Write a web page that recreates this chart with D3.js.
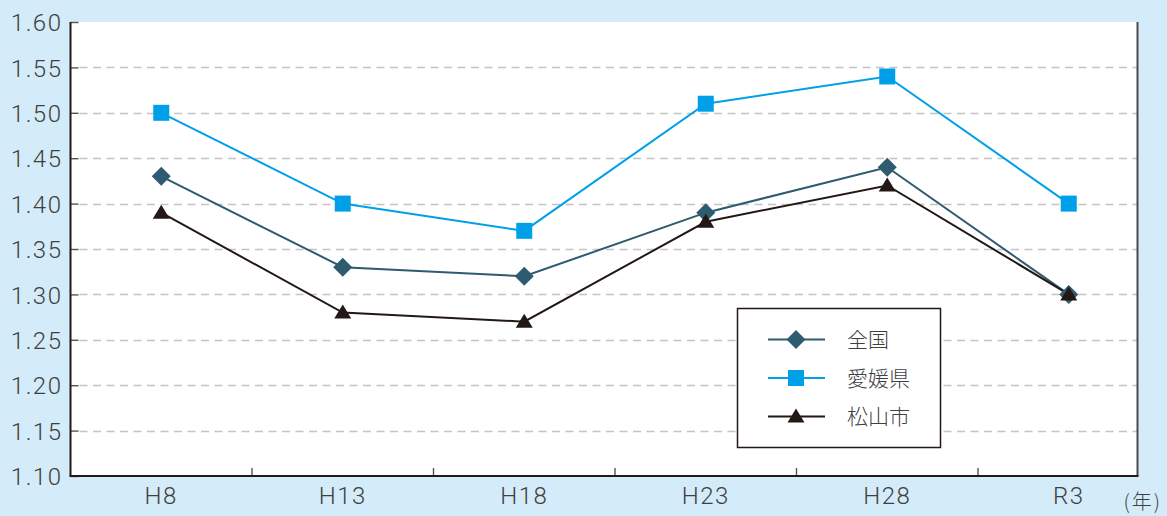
<!DOCTYPE html>
<html lang="ja">
<head>
<meta charset="UTF-8">
<title>合計特殊出生率の推移</title>
<script src="https://d3js.org/d3.v7.min.js"></script>
<style>
    body { margin: 0; background: #d4ecf9; }
    svg { display: block; }
    .tick-label { font-family: Roboto, "Liberation Sans", Arial, sans-serif; font-weight: 300; fill: #404040; }
    .legend-text { font-family: "Noto Sans CJK JP", sans-serif; font-weight: 300; fill: #404040; }
</style>
</head>
<body>
<script>
    const years = ['H8', 'H13', 'H18', 'H23', 'H28', 'R3'];
    const zenkoku = [1.43, 1.33, 1.32, 1.39, 1.44, 1.30];
    const ehime = [1.50, 1.40, 1.37, 1.51, 1.54, 1.40];
    const matsuyama = [1.39, 1.28, 1.27, 1.38, 1.42, 1.30];
    const yTicks = [1.10, 1.15, 1.20, 1.25, 1.30, 1.35, 1.40, 1.45, 1.50, 1.55, 1.60];

    const series = [
        {name: '全国', values: zenkoku, color: '#2e5b6f', shape: 'diamond'},
        {name: '愛媛県', values: ehime, color: '#00a0e9', shape: 'square'},
        {name: '松山市', values: matsuyama, color: '#231815', shape: 'triangle'}
    ];

    const W = 1167, H = 516;
    const plotL = 70.5, plotR = 1137.5, plotT = 22, plotB = 476;

    const svg = d3.select('body').append('svg')
        .attr('width', W).attr('height', H);

    svg.append('rect').attr('width', W).attr('height', H).attr('fill', '#d4ecf9');

    const x = d3.scaleBand().domain(years).range([plotL, plotL + 181.5 * 6]);
    const y = d3.scaleLinear().domain([1.10, 1.60]).range([plotB, plotT]);

    // plot area
    svg.append('rect')
        .attr('x', plotL).attr('y', plotT)
        .attr('width', plotR - plotL).attr('height', plotB - plotT)
        .attr('fill', '#fff');

    // grid
    svg.append('g').selectAll('line')
        .data(yTicks.slice(1, -1))
        .join('line')
        .attr('x1', plotL + 9).attr('x2', plotR)
        .attr('y1', d => Math.round(y(d)) + 0.5).attr('y2', d => Math.round(y(d)) + 0.5)
        .attr('stroke', '#c4c4c4').attr('stroke-width', 1.4)
        .attr('stroke-dasharray', '8,5.5');

    // y axis
    const yAxis = svg.append('g')
        .attr('transform', `translate(${plotL},0)`)
        .call(d3.axisRight(y).tickValues(yTicks).tickSize(8).tickFormat(''));
    yAxis.select('.domain').remove();
    yAxis.selectAll('line').attr('stroke', '#555').attr('stroke-width', 1.4);
    yAxis.selectAll('.tick').append('text')
        .attr('class', 'tick-label')
        .attr('x', -8).attr('dy', '0.36em')
        .attr('text-anchor', 'end')
        .attr('font-size', 24)
        .attr('letter-spacing', 1.5)
        .text(d => d.toFixed(2));

    svg.append('line')
        .attr('x1', plotL).attr('x2', plotL).attr('y1', plotT).attr('y2', plotB)
        .attr('stroke', '#231815').attr('stroke-width', 2);
    svg.append('line')
        .attr('x1', plotR).attr('x2', plotR).attr('y1', plotT).attr('y2', plotB)
        .attr('stroke', '#4a4a4a').attr('stroke-width', 2);

    // x axis
    const boundaries = years.slice(1).map(d => x(d));
    svg.append('g').selectAll('line')
        .data(boundaries)
        .join('line')
        .attr('x1', d => d).attr('x2', d => d)
        .attr('y1', plotB).attr('y2', plotB - 8)
        .attr('stroke', '#555').attr('stroke-width', 1.4);
    svg.append('line')
        .attr('x1', plotL - 1).attr('x2', plotR + 1).attr('y1', plotB).attr('y2', plotB)
        .attr('stroke', '#231815').attr('stroke-width', 2);

    svg.append('g').selectAll('text')
        .data(years)
        .join('text')
        .attr('class', 'tick-label')
        .attr('x', d => x(d) + x.bandwidth() / 2)
        .attr('y', 504)
        .attr('text-anchor', 'middle')
        .attr('font-size', 24)
        .attr('letter-spacing', 1.5)
        .text(d => d);

    svg.append('text')
        .attr('class', 'legend-text')
        .attr('x', 1162).attr('y', 509)
        .attr('text-anchor', 'end')
        .attr('font-size', 20)
        .attr('letter-spacing', 2)
        .text('(年)');

    const cx = d => x(d) + x.bandwidth() / 2;

    function marker(g, shape, color) {
        if (shape === 'square') {
            g.append('rect').attr('x', -8).attr('y', -8).attr('width', 16).attr('height', 16).attr('fill', color);
        } else if (shape === 'diamond') {
            g.append('path').attr('d', 'M0,-9.5L9.5,0L0,9.5L-9.5,0Z').attr('fill', color);
        } else {
            g.append('path').attr('d', 'M0,-8L8.5,6L-8.5,6Z').attr('fill', color);
        }
    }

    const line = d3.line().x((d, i) => cx(years[i])).y(d => y(d));

    series.forEach(s => {
        svg.append('path')
            .datum(s.values)
            .attr('d', line)
            .attr('fill', 'none')
            .attr('stroke', s.color)
            .attr('stroke-width', 2);
    });
    series.forEach(s => {
        s.values.forEach((v, i) => {
            const g = svg.append('g').attr('transform', `translate(${cx(years[i])},${y(v)})`);
            marker(g, s.shape, s.color);
        });
    });

    // legend
    const lg = svg.append('g');
    lg.append('rect')
        .attr('x', 737.5).attr('y', 308.5).attr('width', 203).attr('height', 139)
        .attr('fill', '#fff').attr('stroke', '#231815').attr('stroke-width', 1.5);
    series.forEach((s, i) => {
        const ly = 339.5 + i * 38.5;
        lg.append('line')
            .attr('x1', 768).attr('x2', 825).attr('y1', ly).attr('y2', ly)
            .attr('stroke', s.color).attr('stroke-width', 2);
        marker(lg.append('g').attr('transform', `translate(796,${ly})`), s.shape, s.color);
        lg.append('text')
            .attr('class', 'legend-text')
            .attr('x', 847).attr('y', ly).attr('dy', '0.36em')
            .attr('font-size', 21)
            .text(s.name);
    });
</script>
</body>
</html>
